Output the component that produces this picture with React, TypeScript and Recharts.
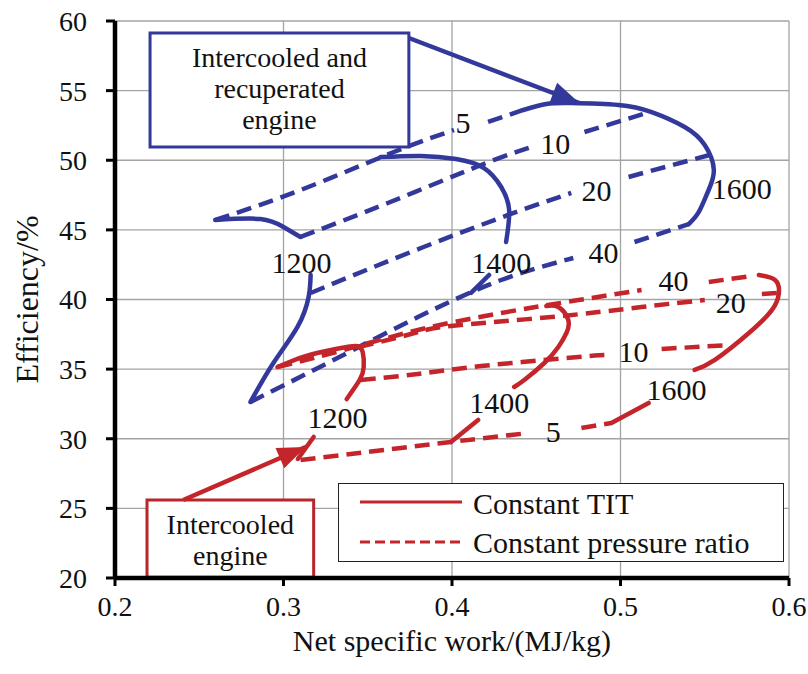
import React from 'react';
import { LineChart, Line, XAxis, YAxis, CartesianGrid, ReferenceArea, ReferenceDot } from 'recharts';

type Pt = [number, number | null];

const FONT = "'Liberation Serif', 'Times New Roman', serif";
const BLUE = '#33399a';
const RED = '#c4252b';

const xTicks = [0.2, 0.3, 0.4, 0.5, 0.6];
const yTicks = [20, 25, 30, 35, 40, 45, 50, 55, 60];

// intercooled + recuperated engine, constant TIT (null = gap for the number label)
const blueTit1200: Pt[] = [
  [0.2595, 45.71], [0.2863, 45.78], [0.3, 45.21], [0.3101, 44.49],
  [0.313, null],
  [0.3161, 41.76], [0.3149, 40.18], [0.3083, 38.03], [0.294, 35.44], [0.2804, 32.64],
];
const blueTit1400: Pt[] = [
  [0.3577, 50.23], [0.3815, 50.31], [0.4024, 50.09], [0.419, 49.44], [0.4292, 48.08],
  [0.4339, 46.43], [0.4321, 44.13],
  [0.427, null],
  [0.422, 41.76], [0.4113, 40.47],
];
const blueTit1600: Pt[] = [
  [0.4423, 53.61], [0.456, 54.04], [0.4708, 54.11], [0.4988, 53.97], [0.5185, 53.46],
  [0.5381, 52.39], [0.55, 51.1], [0.5554, 49.3], [0.5518, 47.72], [0.5464, 46.28], [0.5405, 45.42],
];
// constant pressure ratio
const bluePr5: Pt[] = [
  [0.2595, 45.71], [0.3101, 47.86], [0.3655, 50.59], [0.4012, 52.17],
  [0.41, null],
  [0.4214, 52.75], [0.4423, 53.61],
];
const bluePr10: Pt[] = [
  [0.3101, 44.49], [0.3619, 46.93], [0.4173, 49.66], [0.447, 50.95],
  [0.46, null],
  [0.4786, 52.03], [0.5155, 53.39],
];
const bluePr20: Pt[] = [
  [0.3161, 40.47], [0.3756, 43.41], [0.4333, 46.07], [0.4708, 47.65],
  [0.49, null],
  [0.5048, 48.8], [0.553, 50.38],
];
const bluePr40: Pt[] = [
  [0.2804, 32.64], [0.3262, 35.44], [0.3798, 38.74], [0.4292, 41.4], [0.472, 42.98],
  [0.49, null],
  [0.5083, 44.13], [0.5405, 45.42],
];

// intercooled engine
const redTit1200: Pt[] = [
  [0.2964, 35.15], [0.3131, 35.94], [0.331, 36.45], [0.3429, 36.66], [0.347, 36.23],
  [0.3476, 35.15], [0.3452, 34.22], [0.3375, 32.85],
  [0.33, null],
  [0.3179, 30.13], [0.3085, 28.55],
];
const redTit1400: Pt[] = [
  [0.3994, 29.77], [0.4155, 31.35],
  [0.425, null],
  [0.4369, 33.72], [0.4429, 34.22], [0.4548, 35.44], [0.4631, 36.59], [0.4679, 37.59],
  [0.469, 38.53], [0.4631, 39.46], [0.456, 39.53],
];
const redTit1600: Pt[] = [
  [0.4946, 31.13], [0.5167, 32.57],
  [0.53, null],
  [0.544, 34.94], [0.556, 35.66], [0.5762, 37.59], [0.5899, 39.25], [0.594, 40.47],
  [0.5917, 41.4], [0.5821, 41.76],
];
const redPr5: Pt[] = [
  [0.3101, 28.47], [0.3696, 29.34], [0.3994, 29.77], [0.4452, 30.41],
  [0.46, null],
  [0.4768, 30.77], [0.4946, 31.13],
];
const redPr10: Pt[] = [
  [0.3458, 34.22], [0.3798, 34.65], [0.4173, 35.22], [0.475, 35.87], [0.4917, 36.01],
  [0.51, null],
  [0.5244, 36.45], [0.5649, 36.73],
];
const redPr20: Pt[] = [
  [0.3446, 36.59], [0.3756, 37.52], [0.3994, 38.1], [0.4589, 38.74], [0.5125, 39.46], [0.55, 39.96],
  [0.565, null],
  [0.5839, 40.39], [0.594, 40.47],
];
const redPr40: Pt[] = [
  [0.2964, 35.15], [0.3357, 36.37], [0.3798, 37.81], [0.4292, 39.03], [0.475, 39.96], [0.5125, 40.68],
  [0.53, null],
  [0.5524, 41.26], [0.578, 41.69],
];

const blueLabels = [
  { text: '5', x: 0.4065, y: 52.68 },
  { text: '10', x: 0.4613, y: 51.17 },
  { text: '20', x: 0.4857, y: 47.86 },
  { text: '40', x: 0.4899, y: 43.34 },
  { text: '1200', x: 0.3107, y: 42.69 },
  { text: '1400', x: 0.4292, y: 42.69 },
  { text: '1600', x: 0.572, y: 47.94 },
];
const redLabels = [
  { text: '5', x: 0.4601, y: 30.49 },
  { text: '10', x: 0.5077, y: 36.3 },
  { text: '20', x: 0.5655, y: 39.75 },
  { text: '40', x: 0.5315, y: 41.4 },
  { text: '1200', x: 0.3321, y: 31.56 },
  { text: '1400', x: 0.428, y: 32.57 },
  { text: '1600', x: 0.5333, y: 33.57 },
];

const blueArrow: Pt[] = [[0.3744, 58.78], [0.4756, 54.11]];
const redArrow: Pt[] = [[0.2405, 25.6], [0.3131, 29.41]];

const blueBoxLines = ['Intercooled and', 'recuperated', 'engine'];
const redBoxLines = ['Intercooled', 'engine'];

const legendItems = [
  { label: 'Constant TIT', dashed: false },
  { label: 'Constant pressure ratio', dashed: true },
];

const toRows = (pts: Pt[]) => pts.map(([x, y]) => ({ x, y }));

const solidCurves = [
  { id: 'b1200', pts: blueTit1200, color: BLUE },
  { id: 'b1400', pts: blueTit1400, color: BLUE },
  { id: 'b1600', pts: blueTit1600, color: BLUE },
  { id: 'r1200', pts: redTit1200, color: RED },
  { id: 'r1400', pts: redTit1400, color: RED },
  { id: 'r1600', pts: redTit1600, color: RED },
];
const dashedCurves = [
  { id: 'b5', pts: bluePr5, color: BLUE },
  { id: 'b10', pts: bluePr10, color: BLUE },
  { id: 'b20', pts: bluePr20, color: BLUE },
  { id: 'b40', pts: bluePr40, color: BLUE },
  { id: 'r5', pts: redPr5, color: RED },
  { id: 'r10', pts: redPr10, color: RED },
  { id: 'r20', pts: redPr20, color: RED },
  { id: 'r40', pts: redPr40, color: RED },
];

const arrowHead = (color: string, fallback: number) => (props: any) => {
  const { cx, cy, index, points } = props;
  if (index !== 1 || cx == null) return <g key={`a-${index}`} />;
  let angle = fallback;
  if (points && points[0]) angle = (Math.atan2(cy - points[0].y, cx - points[0].x) * 180) / Math.PI;
  return (
    <polygon
      key={`a-${index}`}
      points="0,0 -28,-11 -28,11"
      fill={color}
      transform={`translate(${cx},${cy}) rotate(${angle})`}
    />
  );
};

const boxText = (lines: string[], first: number, gap: number) => (props: any) => {
  const { x, y, width } = props.viewBox;
  return (
    <text textAnchor="middle" fontFamily={FONT} fontSize={28} fill="#111">
      {lines.map((l, i) => (
        <tspan key={i} x={x + width / 2} y={y + first + i * gap}>{l}</tspan>
      ))}
    </text>
  );
};

const xTitle = (props: any) => {
  const { x, y, width } = props.viewBox;
  return (
    <text x={x + width / 2} y={y + 73} textAnchor="middle" fontFamily={FONT} fontSize={30} fill="#111">
      Net specific work/(MJ/kg)
    </text>
  );
};

const yTitle = (props: any) => {
  const { x, y, height } = props.viewBox;
  const cx = x + 27;
  const cy = y + height / 2;
  return (
    <text x={cx} y={cy} transform={`rotate(-90 ${cx} ${cy})`} textAnchor="middle" dominantBaseline="central"
      fontFamily={FONT} fontSize={32} fill="#111">
      Efficiency/%
    </text>
  );
};

const numLabel = (text: string) => (p: any) => (
  <text x={p.cx} y={p.cy} textAnchor="middle" dominantBaseline="central" fontFamily={FONT} fontSize={30} fill="#111">
    {text}
  </text>
);

export default function App() {
  return (
    <div style={{ position: 'absolute', left: 0, top: 0, width: 808, height: 674, background: '#fff' }}>
      <LineChart width={808} height={674} margin={{ top: 21, right: 19, bottom: 0, left: 0 }}>
        <CartesianGrid stroke="#a3a3a3" strokeWidth={1.3} />
        <XAxis
          type="number" dataKey="x" domain={[0.2, 0.6]} ticks={xTicks} allowDataOverflow height={96}
          tickFormatter={(v: number) => v.toFixed(1)}
          axisLine={{ stroke: '#000', strokeWidth: 4.5 }} tickLine={{ stroke: '#000', strokeWidth: 3 }}
          tickSize={8} tickMargin={10} tick={{ fill: '#111', fontSize: 28, fontFamily: FONT }}
          label={xTitle}
        />
        <YAxis
          type="number" dataKey="y" domain={[20, 60]} ticks={yTicks} allowDataOverflow width={115}
          axisLine={{ stroke: '#000', strokeWidth: 4.5 }} tickLine={{ stroke: '#000', strokeWidth: 3 }}
          tickSize={9} tickMargin={19} tick={{ fill: '#111', fontSize: 28, fontFamily: FONT }}
          label={yTitle}
        />
        {dashedCurves.map((c) => (
          <Line key={c.id} data={toRows(c.pts)} dataKey="y" type="natural" stroke={c.color} strokeWidth={4.5}
            strokeDasharray="15 8" dot={false} activeDot={false} isAnimationActive={false} legendType="none" />
        ))}
        {solidCurves.map((c) => (
          <Line key={c.id} data={toRows(c.pts)} dataKey="y" type="natural" stroke={c.color} strokeWidth={4.5}
            strokeLinecap="round" dot={false} activeDot={false} isAnimationActive={false} legendType="none" />
        ))}
        <ReferenceArea x1={0.2208} x2={0.3744} y1={50.95} y2={59.14} ifOverflow="visible"
          fill="#fff" fillOpacity={1} stroke={BLUE} strokeWidth={3} label={boxText(blueBoxLines, 34, 31)} />
        <ReferenceArea x1={0.219} x2={0.3179} y1={20.05} y2={25.6} ifOverflow="visible"
          fill="#fff" fillOpacity={1} stroke="#b8262c" strokeWidth={3} label={boxText(redBoxLines, 34, 31)} />
        <Line data={toRows(blueArrow)} dataKey="y" type="linear" stroke={BLUE} strokeWidth={4.5}
          dot={arrowHead(BLUE, 20.9)} activeDot={false} isAnimationActive={false} legendType="none" />
        <Line data={toRows(redArrow)} dataKey="y" type="linear" stroke={RED} strokeWidth={4.5}
          dot={arrowHead(RED, -23.5)} activeDot={false} isAnimationActive={false} legendType="none" />
        {[...blueLabels, ...redLabels].map((l, i) => (
          <ReferenceDot key={`lbl-${i}`} x={l.x} y={l.y} r={0} ifOverflow="visible" shape={numLabel(l.text)} />
        ))}
      </LineChart>
      <div style={{ position: 'absolute', left: 338, top: 483, width: 446, height: 79, border: '1.5px solid #222', background: '#fff', boxSizing: 'border-box' }}>
        <svg width={443} height={76} style={{ display: 'block' }}>
          {legendItems.map((it, i) => (
            <g key={it.label}>
              <line x1={21} x2={123} y1={18 + i * 40} y2={18 + i * 40} stroke={RED} strokeWidth={3}
                strokeDasharray={it.dashed ? '10 5' : undefined} />
              <text x={134} y={30 + i * 39} fontFamily={FONT} fontSize={30} fill="#111">{it.label}</text>
            </g>
          ))}
        </svg>
      </div>
    </div>
  );
}
